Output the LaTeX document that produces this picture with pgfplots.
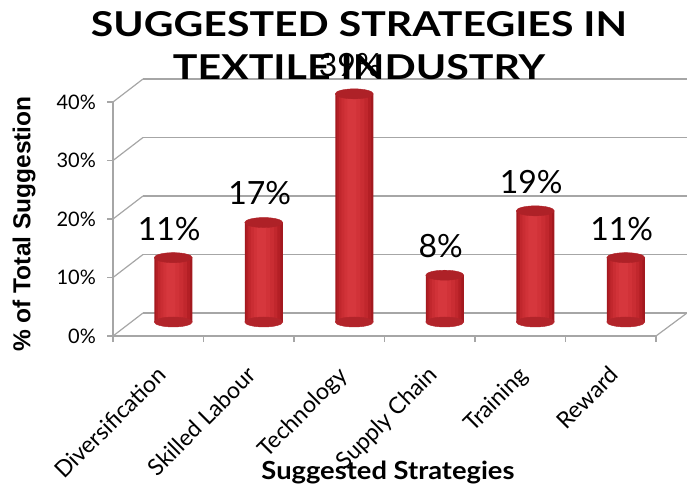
\documentclass[border=0pt]{standalone}
\usepackage{pgfplots}
\usepackage{pgfplotstable}
\pgfplotsset{compat=1.18, /pgf/number format/assume math mode=true}
\usepackage{fontspec}
\setmainfont{Lato}
\newfontfamily\labfont{Liberation Sans}
\definecolor{gridg}{HTML}{A6A6A6}
\definecolor{c1}{HTML}{A3191F}
\definecolor{c2}{HTML}{B41F25}
\definecolor{c3}{HTML}{C1272D}
\definecolor{c4}{HTML}{CA2D33}
\definecolor{c5}{HTML}{D13238}
\definecolor{c6}{HTML}{D6373D}
\definecolor{barTop}{HTML}{AE2127}
\definecolor{barBot}{HTML}{B2242A}
\pgfdeclareplotmark{cyl}{\pgfpathellipse{\pgfpointorigin}{\pgfqpoint{19bp}{0bp}}{\pgfqpoint{0bp}{5bp}}\pgfusepathqfillstroke}
\pgfplotstableread{
x y
0 11
1 17
2 39
3 8
4 19
5 11
}\datatable
\pgfplotstableread{
x y
0 0
1 0
2 0
3 0
4 0
5 0
}\basetable
\begin{document}
\begin{tikzpicture}
\useasboundingbox (0,0) rectangle (687bp,486bp);
% back wall grid
\begin{axis}[at={(143bp,173bp)}, anchor=south west, scale only axis,
  width=544bp, height=234bp, xmin=-0.5, xmax=5.5, ymin=0, ymax=40,
  axis line style={draw=none}, tick style={draw=none},
  xtick=\empty, ytick={0,10,20,30,40}, yticklabels={},
  ymajorgrids, grid style={gridg, line width=1.2bp}]
\end{axis}
% front plane
\begin{axis}[at={(113bp,150bp)}, anchor=south west, scale only axis,
  width=543bp, height=234bp, xmin=-0.5, xmax=5.5, ymin=0, ymax=40,
  axis x line*=bottom, axis y line*=left,
  axis line style={gridg, line width=1.2bp},
  tick style={gridg, line width=1.2bp},
  tick align=outside, major tick length=6bp,
  ytick={0,10,20,30,40},
  yticklabel={\pgfmathprintnumber{\tick}\%},
  yticklabel style={font=\fontsize{20bp}{24bp}\selectfont, anchor=east, inner sep=0pt, xshift=-11bp},
  xtick={-0.5,0.5,1.5,2.5,3.5,4.5,5.5}, xticklabels={},
  extra x ticks={0,1,2,3,4,5},
  extra x tick labels={Diversification,Skilled Labour,Technology,Supply Chain,Training,Reward},
  extra x tick style={tick style={draw=none}},
  xticklabel style={font=\fontsize{23bp}{27bp}\selectfont, rotate=45, anchor=north east, inner sep=0pt, xshift=-18bp, yshift=-14bp},
  clip=false]
\pgfplotsinvokeforeach{0,10,20,30,40}{\draw[gridg, line width=1.2bp] (axis cs:-0.5,#1) -- ++(30bp,23bp);}
\draw[gridg, line width=1.2bp] (axis cs:5.5,0) -- ++(31bp,23bp);
\end{axis}
% bars at mid depth
\begin{axis}[at={(128bp,164bp)}, anchor=south west, scale only axis,
  width=543bp, height=234bp, xmin=-0.5, xmax=5.5, ymin=0, ymax=40,
  axis lines=none, clip=false]
\addplot[only marks, mark=cyl, mark options={fill=barBot, draw=barBot}] table[x=x,y=y]{\basetable};
\addplot[ybar, bar width=38bp, bar shift=0bp, draw=none, fill=c1] table[x=x,y=y]{\datatable};
\addplot[ybar, bar width=34bp, bar shift=-0.4bp, draw=none, fill=c2] table[x=x,y=y]{\datatable};
\addplot[ybar, bar width=29bp, bar shift=-0.8bp, draw=none, fill=c3] table[x=x,y=y]{\datatable};
\addplot[ybar, bar width=23bp, bar shift=-1.3bp, draw=none, fill=c4] table[x=x,y=y]{\datatable};
\addplot[ybar, bar width=16bp, bar shift=-1.8bp, draw=none, fill=c5] table[x=x,y=y]{\datatable};
\addplot[ybar, bar width=9bp, bar shift=-2.3bp, draw=none, fill=c6] table[x=x,y=y]{\datatable};
\addplot[only marks, mark=cyl, mark options={fill=barTop, draw=barTop},
  point meta=y,
  nodes near coords={\pgfmathprintnumber{\pgfplotspointmeta}\%},
  nodes near coords style={font=\fontsize{32bp}{36bp}\selectfont, anchor=center, yshift=29bp, xshift=-4bp, text=black}] table[x=x,y=y]{\datatable};
\end{axis}
% titles
\node[anchor=base, inner sep=0pt] at (359bp,449bp) {\resizebox{536bp}{25bp}{\bfseries SUGGESTED STRATEGIES IN}};
\node[anchor=base, inner sep=0pt] at (359bp,406bp) {\resizebox{372bp}{25bp}{\bfseries TEXTILE INDUSTRY}};
\node[anchor=base, inner sep=0pt] at (388bp,6bp) {\resizebox{253bp}{18.5bp}{\bfseries Suggested Strategies}};
\node[rotate=90, inner sep=0pt] at (24bp,262bp) {\labfont\bfseries\fontsize{24.5bp}{28bp}\selectfont \% of Total Suggestion};
\end{tikzpicture}
\end{document}
